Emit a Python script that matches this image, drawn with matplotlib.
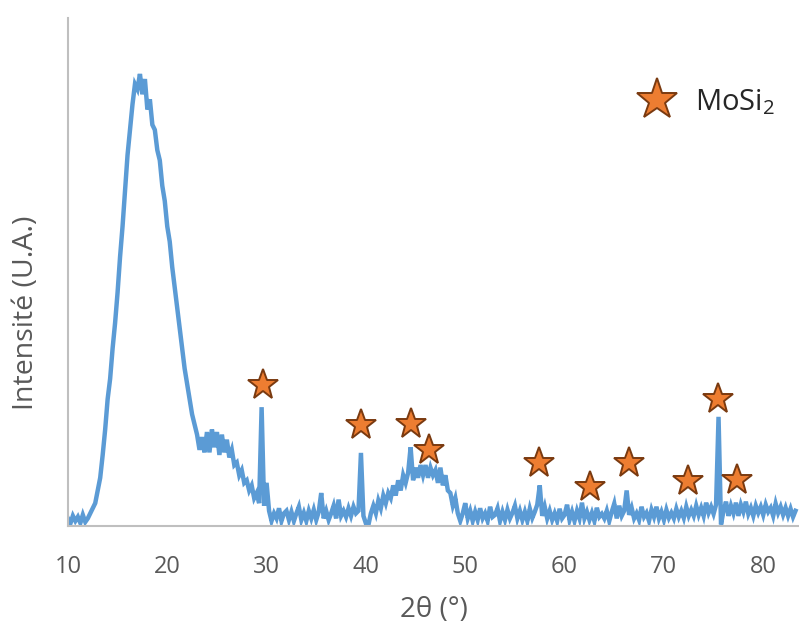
import numpy as np
import matplotlib as mpl
mpl.use('Agg')
from matplotlib import pyplot as plt
from matplotlib.lines import Line2D

# XRD pattern, every 0.25 deg from 10 to 83.25
two_theta = np.arange(10, 83.5, 0.25)
intensity = [
    1.5, 0.5, 2.0, 1.0,      # 10
    1.8, 0.6, 2.2, 0.8,      # 11
    1.5, 2.5, 3.5, 4.5,      # 12
    7.0, 9.5, 14.0, 19.0,    # 13
    25.0, 29.0, 35.0, 40.0,  # 14
    46.0, 53.0, 59.0, 66.0,  # 15
    73.0, 78.0, 83.0, 87.0,  # 16
    86.0, 89.0, 85.0, 88.0,  # 17
    82.0, 84.0, 79.0, 78.0,  # 18
    74.0, 72.0, 67.0, 64.0,  # 19
    59.0, 56.0, 51.0, 47.0,  # 20
    43.0, 39.0, 35.0, 31.0,  # 21
    28.0, 25.0, 22.0, 20.0,  # 22
    18.0, 15.0, 17.5, 14.5,  # 23
    18.5, 14.5, 19.0, 15.5,  # 24
    18.5, 14.0, 18.0, 14.5,  # 25
    17.0, 13.5, 15.0, 12.0,  # 26
    12.5, 10.0, 11.0, 8.5,   # 27
    9.0, 7.0, 8.0, 5.5,      # 28
    6.5, 4.5, 23.4, 4.0,     # 29
    8.5, 3.0, 1.0, 2.5,      # 30
    1.5, 3.5, 1.0, 2.5,      # 31
    3.0, 1.2, 2.8, 1.0,      # 32
    2.5, 3.8, 1.2, 2.6,      # 33
    1.0, 3.0, 1.5, 3.2,      # 34
    1.2, 2.8, 6.5, 1.5,      # 35
    3.0, 1.2, 2.5, 4.0,      # 36
    1.5, 5.2, 2.0, 3.0,      # 37
    1.8, 3.5, 2.0, 3.8,      # 38
    2.5, 3.0, 14.4, 2.0,     # 39
    0.5, 0.2, 2.5, 4.0,      # 40
    2.5, 5.0, 3.5, 6.0,      # 41
    4.5, 6.5, 5.5, 8.0,      # 42
    6.0, 9.0, 7.0, 10.0,     # 43
    8.5, 10.5, 15.5, 9.0,    # 44
    11.5, 9.5, 12.0, 10.0,   # 45
    12.0, 9.5, 11.5, 10.0,   # 46
    11.0, 8.5, 11.5, 8.0,    # 47
    10.0, 7.0, 6.5, 4.0,     # 48
    5.5, 2.5, 1.0, 2.5,      # 49
    4.5, 1.5, 3.0, 1.0,      # 50
    2.8, 1.2, 3.5, 1.5,      # 51
    2.5, 1.0, 3.8, 1.8,      # 52
    2.2, 3.5, 1.0, 2.8,      # 53
    1.2, 3.2, 1.5, 2.6,      # 54
    4.0, 1.5, 3.0, 1.2,      # 55
    2.8, 1.0, 3.4, 1.6,      # 56
    2.8, 4.2, 8.0, 2.0,      # 57
    3.8, 1.5, 3.0, 1.2,      # 58
    2.5, 1.0, 3.4, 1.5,      # 59
    2.2, 4.2, 1.2, 2.8,      # 60
    1.0, 3.0, 1.5, 4.6,      # 61
    1.5, 2.8, 1.2, 2.6,      # 62
    1.0, 3.6, 1.8, 2.4,      # 63
    1.5, 3.0, 1.0, 2.8,      # 64
    4.4, 1.5, 4.0, 2.0,      # 65
    3.0, 7.0, 2.2, 3.6,      # 66
    1.5, 2.5, 1.2, 3.8,      # 67
    1.8, 2.6, 1.0, 3.2,      # 68
    1.8, 3.8, 1.5, 2.8,      # 69
    1.2, 3.2, 1.6, 2.6,      # 70
    1.5, 3.4, 1.8, 3.0,      # 71
    1.6, 3.8, 2.0, 3.2,      # 72
    2.0, 4.0, 2.2, 3.6,      # 73
    2.0, 4.6, 2.6, 3.8,      # 74
    2.4, 4.2, 21.5, 0.3,     # 75
    3.0, 4.8, 2.0, 4.0,      # 76
    2.5, 4.6, 2.0, 4.2,      # 77
    2.8, 4.8, 2.4, 3.6,      # 78
    2.0, 4.0, 2.6, 3.8,      # 79
    2.2, 4.2, 2.8, 3.6,      # 80
    2.0, 4.4, 2.6, 3.8,      # 81
    2.2, 3.6, 2.0, 3.4,      # 82
    1.8, 3.0,                # 83
]

# MoSi2 markers (angle, height of star)
star_theta = [29.6, 39.5, 44.5, 46.4, 57.4, 62.6, 66.5, 72.4, 75.4, 77.4]
star_height = [27.8, 19.9, 20.0, 15.0, 12.4, 7.7, 12.4, 8.9, 25.0, 9.0]

xticks = [10, 20, 30, 40, 50, 60, 70, 80]

blue = '#5B9BD5'
orange = '#ED7D31'
brown = '#7A3A10'
grey_txt = '#595959'

plt.rcParams['font.family'] = ['Open Sans', 'DejaVu Sans']

fig = plt.figure(figsize=(7.99, 6.24), dpi=100)
ax = fig.add_axes([0.085, 0.157, 0.915, 0.814])

ax.plot(two_theta, intensity, color=blue, lw=3.2, solid_joinstyle='miter')
ax.plot(star_theta, star_height, linestyle='none', marker='*', markersize=23,
        markerfacecolor=orange, markeredgecolor=brown, markeredgewidth=1.4)

ax.set_xlim(10, 83.6)
ax.set_ylim(0, 100)
ax.set_xticks(xticks)
ax.set_yticks([])
ax.tick_params(axis='x', length=0, pad=21, labelsize=17, labelcolor=grey_txt)

for side in ['top', 'right']:
    ax.spines[side].set_visible(False)
for side in ['left', 'bottom']:
    ax.spines[side].set_color('#BFBFBF')
    ax.spines[side].set_linewidth(1.5)

ax.set_xlabel('2θ (°)', fontsize=20, color=grey_txt, labelpad=12)
ax.set_ylabel('Intensité (U.A.)', fontsize=20.5, color=grey_txt)
ax.yaxis.set_label_coords(-0.038, 0.42)

handle = Line2D([], [], linestyle='none', marker='*', markersize=31,
                markerfacecolor=orange, markeredgecolor=brown, markeredgewidth=1.4)
ax.legend([handle], [r'MoSi$_\mathregular{2}$'], loc='upper right',
          bbox_to_anchor=(1.003, 0.915), frameon=False, fontsize=21,
          handletextpad=0.3, labelcolor='#262626')

fig.savefig('out.png', dpi=100)
